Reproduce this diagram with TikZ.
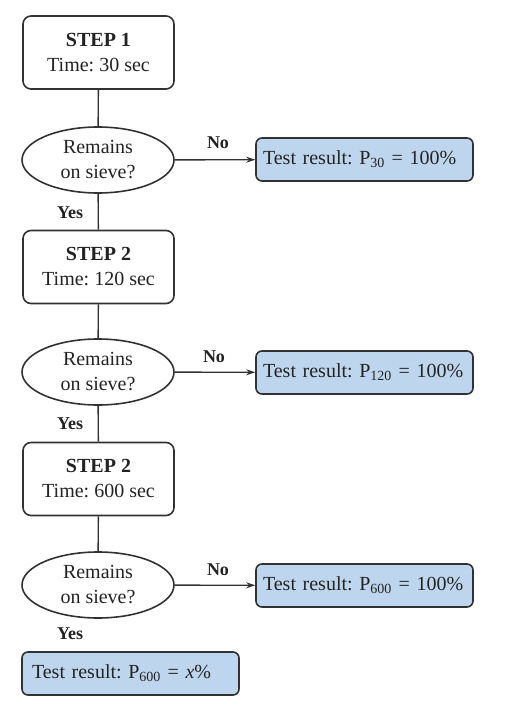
\documentclass[tikz,border=0pt]{standalone}
\usepackage{fontspec}
\setmainfont{Liberation Serif}
\usetikzlibrary{shapes.geometric,arrows.meta}
\definecolor{resfill}{RGB}{190,214,237}
\definecolor{edge}{RGB}{50,50,50}
\definecolor{txt}{RGB}{35,35,35}
\frenchspacing
\tikzset{
  stepbox/.style={draw=edge,line width=1.6pt,rounded corners=8pt,fill=white,minimum width=151pt,minimum height=73pt,align=center,inner sep=0pt,text=txt,font=\fontsize{20}{25}\selectfont},
  decide/.style={draw=edge,line width=1.6pt,ellipse,minimum width=152pt,minimum height=66pt,align=center,inner sep=0pt,text=txt,font=\fontsize{20}{25}\selectfont},
  resbox/.style={draw=edge,line width=1.6pt,rounded corners=6pt,fill=resfill,minimum height=43pt,inner ysep=0pt,inner xsep=7pt,text width=203pt,align=left,text=txt,font=\fontsize{20}{25}\selectfont},
  lbl/.style={font=\bfseries\fontsize{18}{22}\selectfont,inner sep=0pt,text=txt},
  conn/.style={draw=edge,line width=1.4pt},
  arr/.style={conn,-{Stealth[length=9pt,width=6pt]}}
}
\begin{document}
\begin{tikzpicture}[x=1pt,y=-1pt]
\useasboundingbox (0,0) rectangle (524,712);
\node[stepbox] (s1) at (98.5,52.5) {\textbf{STEP 1}\\Time: 30 sec};
\node[decide] (d1) at (98,160) {Remains\\on sieve?};
\node[resbox] (r1) at (364.5,159.5) {\mbox{Test result: P\textsubscript{30} = 100\%}};
\node[stepbox] (s2) at (98.5,267) {\textbf{STEP 2}\\Time: 120 sec};
\node[decide] (d2) at (98,372) {Remains\\on sieve?};
\node[resbox] (r2) at (364.5,372.5) {\mbox{Test result: P\textsubscript{120} = 100\%}};
\node[stepbox] (s3) at (98.5,479) {\textbf{STEP 2}\\Time: 600 sec};
\node[decide] (d3) at (98,585) {Remains\\on sieve?};
\node[resbox] (r3) at (364.5,585.5) {\mbox{Test result: P\textsubscript{600} = 100\%}};
\node[resbox,inner xsep=10pt,text width=197pt] (rf) at (130.5,673.5) {\mbox{Test result: P\textsubscript{600} = \textit{x}\%}};
\draw[conn] (s1) -- (d1);
\draw[conn] (d1) -- (s2);
\draw[conn] (s2) -- (d2);
\draw[conn] (d2) -- (s3);
\draw[conn] (s3) -- (d3);
\draw[arr] (d1) -- (r1);
\draw[arr] (d2) -- (r2);
\draw[arr] (d3) -- (r3);
\node[lbl] (y1) at (70,213) {Yes};
\node[lbl] (y2) at (70,424) {Yes};
\node[lbl] (y3) at (70,634) {Yes};
\node[lbl] (n1) at (218,143) {No};
\node[lbl] (n2) at (214,357) {No};
\node[lbl] (n3) at (218,570) {No};
\end{tikzpicture}
\end{document}
